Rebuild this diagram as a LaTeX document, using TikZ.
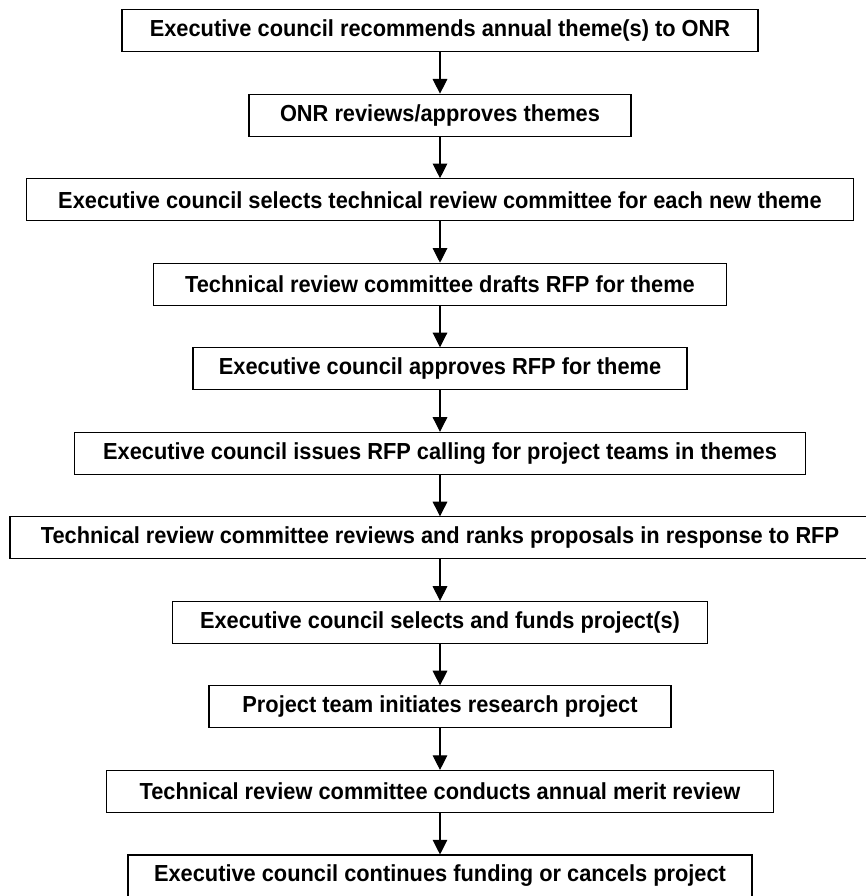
\documentclass[tikz,border=0pt]{standalone}
\usepackage{fontspec}
\setmainfont[FakeStretch=0.94]{Liberation Sans}
\usepackage{tikz}
\usetikzlibrary{positioning,arrows.meta}

\begin{document}
\begin{tikzpicture}[
  stepbox/.style={rectangle, draw, line width=0.8pt, minimum height=31.5pt, inner xsep=4pt, font=\bfseries\fontsize{17.4}{19}\selectfont},
  arrow/.style={-{Triangle[width=11pt,length=11pt]}, line width=0.8pt},
  node distance=31.1pt
]
\path[use as bounding box] (0,0) rectangle (649.5pt,672pt);
\clip (0,0) rectangle (649.5pt,672pt);

\node[stepbox, minimum width=477pt] (theme) at (330pt,649pt) {Executive council recommends annual theme(s) to ONR};
\node[stepbox, minimum width=286.5pt, below=of theme] (onr) {ONR reviews/approves themes};
\node[stepbox, minimum width=620pt, below=of onr] (select) {Executive council selects technical review committee for each new theme};
\node[stepbox, minimum width=430pt, below=of select] (draft) {Technical review committee drafts RFP for theme};
\node[stepbox, minimum width=370.5pt, below=of draft] (approve) {Executive council approves RFP for theme};
\node[stepbox, minimum width=548pt, below=of approve] (issue) {Executive council issues RFP calling for project teams in themes};
\node[stepbox, minimum width=645pt, below=of issue] (rank) {Technical review committee reviews and ranks proposals in response to RFP};
\node[stepbox, minimum width=401pt, below=of rank] (fund) {Executive council selects and funds project(s)};
\node[stepbox, minimum width=346.5pt, below=of fund] (initiate) {Project team initiates research project};
\node[stepbox, minimum width=500pt, below=of initiate] (merit) {Technical review committee conducts annual merit review};
\node[stepbox, minimum width=468pt, below=of merit] (continue) {Executive council continues funding or cancels project};

\draw[arrow] (theme) -- (onr);
\draw[arrow] (onr) -- (select);
\draw[arrow] (select) -- (draft);
\draw[arrow] (draft) -- (approve);
\draw[arrow] (approve) -- (issue);
\draw[arrow] (issue) -- (rank);
\draw[arrow] (rank) -- (fund);
\draw[arrow] (fund) -- (initiate);
\draw[arrow] (initiate) -- (merit);
\draw[arrow] (merit) -- (continue);
\end{tikzpicture}
\end{document}
